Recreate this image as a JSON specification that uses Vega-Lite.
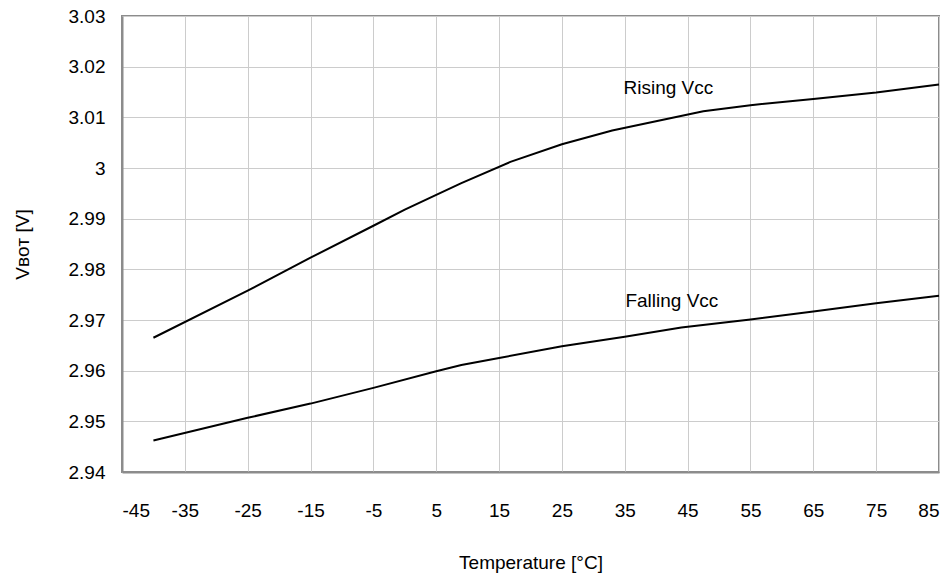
{
  "$schema": "https://vega.github.io/schema/vega-lite/v6.json",
  "width": 817,
  "height": 456,
  "autosize": {"type": "none"},
  "padding": {"left": 122, "top": 16, "right": 13, "bottom": 109},
  "background": "white",
  "config": {
    "font": "Liberation Sans",
    "view": {"stroke": "#8c8c8c", "strokeWidth": 2},
    "axis": {"labelFont": "Liberation Sans", "titleFont": "Liberation Sans", "labelColor": "black", "titleColor": "black", "labelFontSize": 19, "titleFontSize": 19, "titleFontWeight": "normal", "gridColor": "#cccccc", "gridWidth": 1, "domainColor": "#8c8c8c", "domainWidth": 2, "ticks": false}
  },
  "datasets": {
    "curves": [
      {"series": "Rising", "temp": -40, "v": 2.9665},
      {"series": "Rising", "temp": -25, "v": 2.9758},
      {"series": "Rising", "temp": -15, "v": 2.9823},
      {"series": "Rising", "temp": -5, "v": 2.9886},
      {"series": "Rising", "temp": 0, "v": 2.9918},
      {"series": "Rising", "temp": 5, "v": 2.9947},
      {"series": "Rising", "temp": 9, "v": 2.9970},
      {"series": "Rising", "temp": 16.8, "v": 3.0012},
      {"series": "Rising", "temp": 25, "v": 3.0047},
      {"series": "Rising", "temp": 33, "v": 3.0074},
      {"series": "Rising", "temp": 47.5, "v": 3.0112},
      {"series": "Rising", "temp": 55, "v": 3.0124},
      {"series": "Rising", "temp": 65, "v": 3.0136},
      {"series": "Rising", "temp": 75, "v": 3.0149},
      {"series": "Rising", "temp": 85, "v": 3.0165},
      {"series": "Falling", "temp": -40, "v": 2.9462},
      {"series": "Falling", "temp": -25, "v": 2.9507},
      {"series": "Falling", "temp": -15, "v": 2.9535},
      {"series": "Falling", "temp": -5, "v": 2.9566},
      {"series": "Falling", "temp": 5, "v": 2.9599},
      {"series": "Falling", "temp": 9, "v": 2.9611},
      {"series": "Falling", "temp": 15, "v": 2.9625},
      {"series": "Falling", "temp": 25, "v": 2.9648},
      {"series": "Falling", "temp": 35, "v": 2.9667},
      {"series": "Falling", "temp": 44, "v": 2.9685},
      {"series": "Falling", "temp": 55, "v": 2.9701},
      {"series": "Falling", "temp": 65, "v": 2.9717},
      {"series": "Falling", "temp": 75, "v": 2.9733},
      {"series": "Falling", "temp": 85, "v": 2.9748}
    ],
    "labels": [
      {"label": "Rising Vcc", "temp": 34.8, "v": 3.0147},
      {"label": "Falling Vcc", "temp": 35.1, "v": 2.9726}
    ]
  },
  "layer": [
    {
      "data": {"name": "curves"},
      "mark": {"type": "line", "color": "black", "strokeWidth": 2},
      "encoding": {
        "x": {"field": "temp", "type": "quantitative",
          "scale": {"domain": [-45, 85], "nice": false, "zero": false},
          "axis": {"values": [-45, -35, -25, -15, -5, 5, 15, 25, 35, 45, 55, 65, 75, 85], "labelExpr": "'' + datum.value", "labelPadding": 29, "title": "Temperature [°C]", "titlePadding": 33}},
        "y": {"field": "v", "type": "quantitative",
          "scale": {"domain": [2.94, 3.03], "nice": false, "zero": false},
          "axis": {"values": [2.94, 2.95, 2.96, 2.97, 2.98, 2.99, 3.0, 3.01, 3.02, 3.03], "labelExpr": "format(datum.value, '.2~f')", "labelPadding": 17, "title": "Vʙᴏᴛ [V]", "titlePadding": 36}},
        "detail": {"field": "series"}
      }
    },
    {
      "data": {"name": "labels"},
      "mark": {"type": "text", "align": "left", "baseline": "alphabetic", "fontSize": 19, "font": "Liberation Sans", "color": "black"},
      "encoding": {
        "x": {"field": "temp", "type": "quantitative"},
        "y": {"field": "v", "type": "quantitative"},
        "text": {"field": "label"}
      }
    }
  ]
}
